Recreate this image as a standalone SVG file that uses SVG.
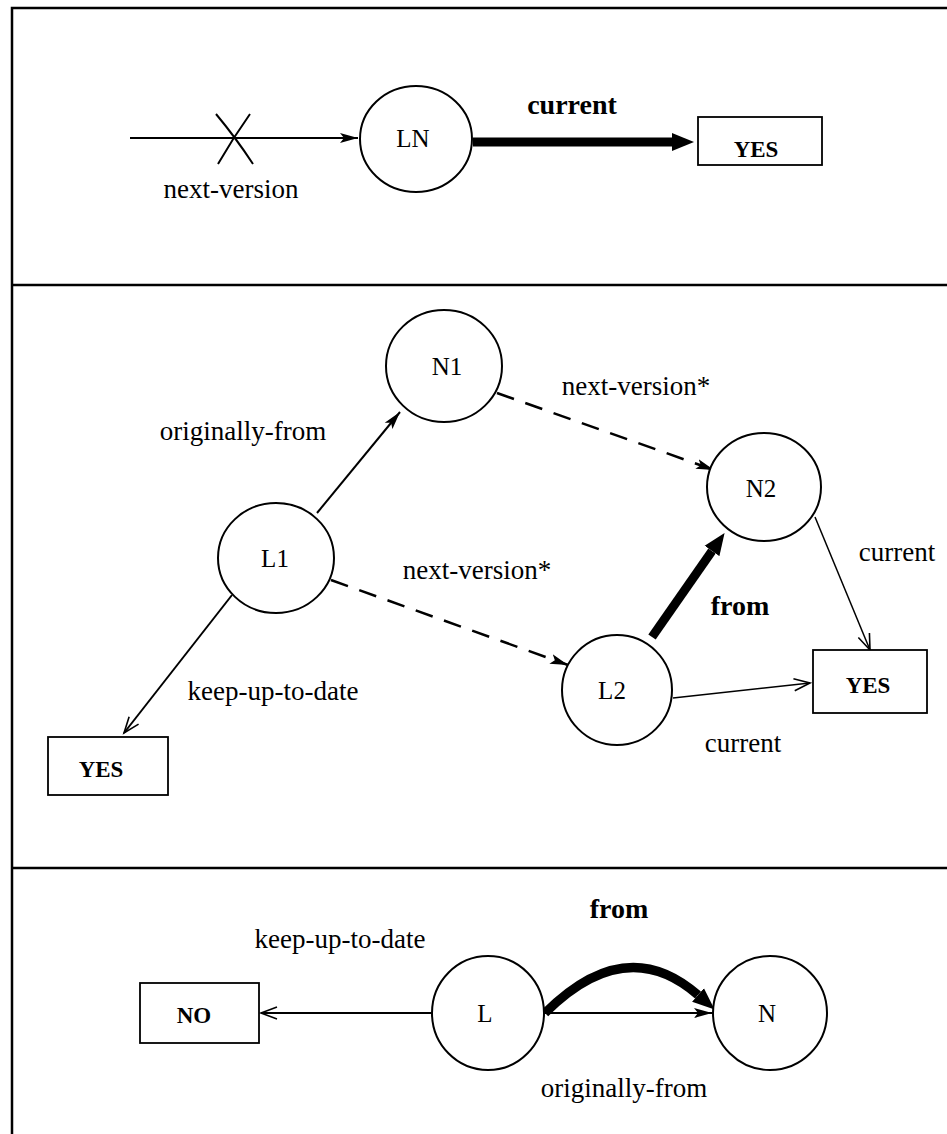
<svg xmlns="http://www.w3.org/2000/svg" width="947" height="1134" viewBox="0 0 947 1134">
<style>
.bg{fill:#fff}
.frame{stroke:#000;stroke-width:2.5;fill:none}
.node{fill:#fff;stroke:#000;stroke-width:2}
.box{fill:#fff;stroke:#000;stroke-width:1.8}
.t{font-family:"Liberation Serif","Times New Roman",serif;font-size:27px;fill:#000}
.b{font-family:"Liberation Serif","Times New Roman",serif;font-size:28px;font-weight:bold;fill:#000}
.nl{font-family:"Liberation Serif","Times New Roman",serif;font-size:25px;fill:#000;text-anchor:middle}
.bl{font-family:"Liberation Serif","Times New Roman",serif;font-size:23px;font-weight:bold;fill:#000;text-anchor:middle}
.e{stroke:#000;stroke-width:2;fill:none}
.thin{stroke:#000;stroke-width:1.5;fill:none}
.dash{stroke:#000;stroke-width:2.5;fill:none;stroke-dasharray:18 12}
.thick{stroke:#000;stroke-width:9;fill:none}
</style>
<defs>
<marker id="fa" markerUnits="userSpaceOnUse" markerWidth="20" markerHeight="12" refX="18" refY="6" orient="auto" viewBox="0 0 20 12">
<path d="M0,1 L18,6 L0,11 L4,6 z" fill="#000"/>
</marker>
<marker id="va" markerUnits="userSpaceOnUse" markerWidth="20" markerHeight="14" refX="17" refY="7" orient="auto" viewBox="0 0 20 14">
<path d="M1,1 L17,7 L1,13" fill="none" stroke="#000" stroke-width="1.6"/>
</marker>
<marker id="ta" markerUnits="userSpaceOnUse" markerWidth="24" markerHeight="20" refX="0" refY="10" orient="auto" viewBox="0 0 24 20">
<path d="M0,1 L22,10 L0,19 z" fill="#000"/>
</marker>
</defs>
<rect class="bg" x="0" y="0" width="947" height="1134"/>
<g id="frame">
<path class="frame" d="M947,8 L12,8 L12,1134"/>
<line class="frame" x1="12" y1="285" x2="947" y2="285"/>
<line class="frame" x1="12" y1="868" x2="947" y2="868"/>
</g>
<g id="connectors">
<line class="e" stroke-width="2.5" x1="130" y1="138" x2="358" y2="138" marker-end="url(#fa)"/>
<path class="e" d="M216,114 Q236,138 253,164 M250,114 Q233,138 218,164"/>
<line class="thick" x1="473" y1="142" x2="672" y2="142" marker-end="url(#ta)"/>
<line class="e" x1="317" y1="513" x2="400" y2="412" marker-end="url(#fa)"/>
<line class="dash" x1="497" y1="393" x2="714" y2="470" marker-end="url(#fa)"/>
<line class="dash" x1="331" y1="580" x2="568" y2="665" marker-end="url(#fa)"/>
<line class="thick" x1="652" y1="637" x2="712" y2="551" marker-end="url(#ta)"/>
<line class="thin" x1="815" y1="517" x2="870" y2="650" marker-end="url(#va)"/>
<line class="thin" x1="673" y1="698" x2="810" y2="683" marker-end="url(#va)"/>
<line class="e" x1="232" y1="595" x2="124" y2="733" marker-end="url(#va)"/>
<line class="e" x1="432" y1="1013" x2="261" y2="1013" marker-end="url(#va)"/>
<line class="e" x1="545" y1="1013" x2="712" y2="1013" marker-end="url(#fa)"/>
<path class="thick" stroke-width="11" d="M545,1013 Q626,932 698,995" marker-end="url(#ta)"/>
</g>
<g id="labels">
<text class="t" x="231" y="198" text-anchor="middle">next-version</text>
<text class="b" x="572" y="114" text-anchor="middle">current</text>
<text class="t" x="243" y="440" text-anchor="middle">originally-from</text>
<text class="t" x="636" y="395" text-anchor="middle">next-version*</text>
<text class="t" x="477" y="579" text-anchor="middle">next-version*</text>
<text class="b" x="740" y="615" text-anchor="middle">from</text>
<text class="t" x="897" y="561" text-anchor="middle">current</text>
<text class="t" x="273" y="700" text-anchor="middle">keep-up-to-date</text>
<text class="t" x="743" y="752" text-anchor="middle">current</text>
<text class="b" x="619" y="918" text-anchor="middle">from</text>
<text class="t" x="340" y="948" text-anchor="middle">keep-up-to-date</text>
<text class="t" x="624" y="1097" text-anchor="middle">originally-from</text>
</g>
<g id="LN"><ellipse class="node" cx="416" cy="139" rx="56" ry="53"/><text class="nl" x="413" y="147">LN</text></g>
<g id="YES-top"><rect class="box" x="698" y="117" width="124" height="48"/><text class="bl" x="756" y="157">YES</text></g>
<g id="N1"><ellipse class="node" cx="444" cy="366" rx="58" ry="56"/><text class="nl" x="447" y="375">N1</text></g>
<g id="N2"><ellipse class="node" cx="764" cy="487" rx="57" ry="54"/><text class="nl" x="761" y="497">N2</text></g>
<g id="L1"><ellipse class="node" cx="276" cy="558" rx="58" ry="55"/><text class="nl" x="275" y="567">L1</text></g>
<g id="L2"><ellipse class="node" cx="617" cy="690" rx="55" ry="55"/><text class="nl" x="612" y="699">L2</text></g>
<g id="YES-right"><rect class="box" x="813" y="650" width="114" height="63"/><text class="bl" x="868" y="693">YES</text></g>
<g id="YES-left"><rect class="box" x="48" y="737" width="120" height="58"/><text class="bl" x="101" y="777">YES</text></g>
<g id="NO"><rect class="box" x="140" y="983" width="119" height="60"/><text class="bl" x="194" y="1023">NO</text></g>
<g id="L"><ellipse class="node" cx="488" cy="1013" rx="56" ry="57"/><text class="nl" x="485" y="1022">L</text></g>
<g id="N"><ellipse class="node" cx="770" cy="1013" rx="57" ry="57"/><text class="nl" x="767" y="1022">N</text></g>
</svg>
